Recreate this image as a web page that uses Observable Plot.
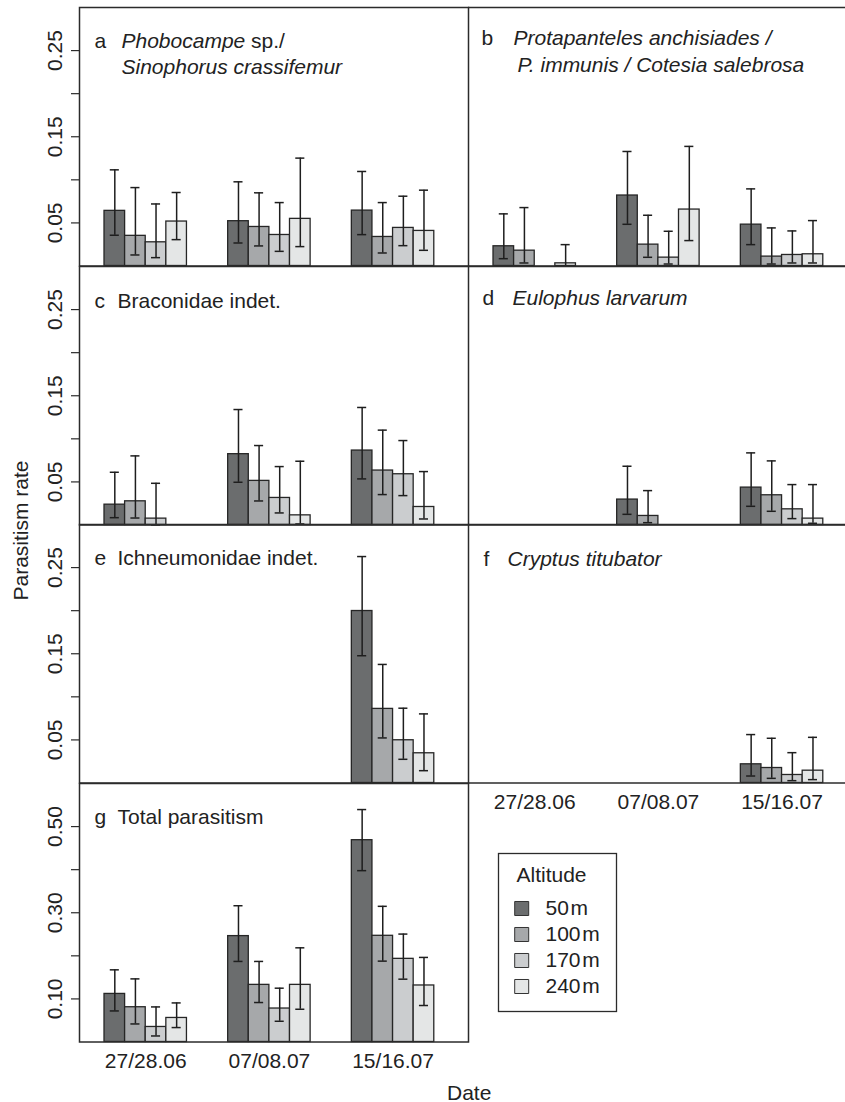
<!DOCTYPE html>
<html><head><meta charset="utf-8">
<script src="https://cdn.jsdelivr.net/npm/d3@7"></script>
<script src="https://cdn.jsdelivr.net/npm/@observablehq/plot@0.6"></script>
<style>
html,body{margin:0;padding:0;background:#fff;overflow:hidden;}
#fig{position:relative;width:845px;height:1102px;overflow:hidden;font-family:"Liberation Sans",Arial,Helvetica,sans-serif;color:#222;}
#fig svg{position:absolute;}
.lab{position:absolute;font-size:21px;line-height:21px;white-space:nowrap;transform-origin:center;}
</style></head><body><div id="fig"></div>
<script>
// ---------- data ----------
const dates = ["27/28.06", "07/08.07", "15/16.07"];
const altitudes = ["50\u200Am", "100\u200Am", "170\u200Am", "240\u200Am"];
const colors = ["#6b6d6e", "#a6a8aa", "#cbcdcf", "#e4e6e6"];

// a  Phobocampe sp. / Sinophorus crassifemur
const aMean = [0.064, 0.035, 0.0275, 0.0516, 0.052, 0.0453, 0.036, 0.0547, 0.0643, 0.0337, 0.0442, 0.0407];
const aLow  = [0.0357, 0.0128, 0.0097, 0.0306, 0.0267, 0.0233, 0.017, 0.0225, 0.0364, 0.0151, 0.0236, 0.0182];
const aHigh = [0.1116, 0.091, 0.072, 0.0853, 0.0977, 0.0849, 0.0736, 0.1252, 0.1097, 0.0736, 0.081, 0.088];
// b  Protapanteles anchisiades / P. immunis / Cotesia salebrosa
const bMean = [0.0229, 0.0178, 0, 0.0031, 0.0818, 0.0248, 0.0097, 0.0655, 0.048, 0.0109, 0.0128, 0.0136];
const bLow  = [0.0085, 0.0035, null, 0, 0.0484, 0.0101, 0.0023, 0.0295, 0.0248, 0.0023, 0.0035, 0.0035];
const bHigh = [0.0605, 0.0678, null, 0.0248, 0.1329, 0.0589, 0.0403, 0.1388, 0.0895, 0.0442, 0.0407, 0.0527];
// c  Braconidae indet.
const cMean = [0.0236, 0.0275, 0.0074, 0, 0.0822, 0.0512, 0.0314, 0.0112, 0.0864, 0.0632, 0.0589, 0.0209];
const cLow  = [0.0085, 0.0081, 0, null, 0.0496, 0.0279, 0.014, 0.0012, 0.0535, 0.0353, 0.0341, 0.007];
const cHigh = [0.0612, 0.0802, 0.0484, null, 0.134, 0.0922, 0.0678, 0.074, 0.1364, 0.1101, 0.098, 0.062];
// d  Eulophus larvarum
const dMean = [0, 0, 0, 0, 0.0295, 0.0105, 0, 0, 0.0434, 0.0345, 0.0182, 0.0074];
const dLow  = [null, null, null, null, 0.0124, 0.0027, null, null, 0.0217, 0.0159, 0.0074, 0.002];
const dHigh = [null, null, null, null, 0.0682, 0.0399, null, null, 0.0837, 0.0744, 0.0469, 0.0469];
// e  Ichneumonidae indet.
const eMean = [0, 0, 0, 0, 0, 0, 0, 0, 0.1996, 0.086, 0.0496, 0.0345];
const eLow  = [null, null, null, null, null, null, null, null, 0.1477, 0.0523, 0.0275, 0.0143];
const eHigh = [null, null, null, null, null, null, null, null, 0.2628, 0.1376, 0.0868, 0.0802];
// f  Cryptus titubator
const fMean = [0, 0, 0, 0, 0, 0, 0, 0, 0.0217, 0.0174, 0.0093, 0.0143];
const fLow  = [null, null, null, null, null, null, null, null, 0.0081, 0.0054, 0.0027, 0.0039];
const fHigh = [null, null, null, null, null, null, null, null, 0.0562, 0.0519, 0.0352, 0.053];
// g  Total parasitism
const gMean = [0.1116, 0.0807, 0.0349, 0.0558, 0.2458, 0.1326, 0.0777, 0.1326, 0.4684, 0.2465, 0.193, 0.1312];
const gLow  = [0.0721, 0.0419, 0.014, 0.0335, 0.187, 0.0916, 0.0481, 0.076, 0.3977, 0.1877, 0.1458, 0.0847];
const gHigh = [0.1675, 0.1465, 0.0814, 0.0907, 0.3163, 0.187, 0.1249, 0.2186, 0.5395, 0.3149, 0.2505, 0.1963];

const smallTicks = [0.05, 0.10, 0.15, 0.20, 0.25];
const smallLabels = [0.05, 0.15, 0.25];
const totalTicks = [0.1, 0.2, 0.3, 0.4, 0.5];
const totalLabels = [0.1, 0.3, 0.5];

// ---------- layout ----------
const fig = document.getElementById("fig");
const FONT = '"Liberation Sans", Arial, Helvetica, sans-serif';
const FS = 21;
const INK = "#222";
const LINE = "#2b2b2b";
const ctx = document.createElement("canvas").getContext("2d");
function textWidth(s, italic) { ctx.font = `${italic ? "italic " : ""}${FS}px ${FONT}`; return ctx.measureText(s).width; }

const tops = [7, 265.5, 524, 782.5];
const H = 258.5;
const unit = 389 / 18.873;
const x0 = -0.213;

function rowsFor(mean, low, high) {
  return dates.flatMap((date, g) => altitudes.map((alt, k) => {
    const i = g * 4 + k;
    return {date, alt, g, k, v: mean[i], lo: low[i], hi: high[i]};
  }));
}

function drawPanel(p) {
  const right = p.col === 1;
  const top = tops[p.row];
  const mt = 1, mb = p.dateAxis ? 46 : 1;
  const width = right ? 378 : 469;
  const ml = right ? 1 : 79, mr = right ? 0 : 1;
  const xmax = x0 + (width - ml - mr) / unit;
  const rows = rowsFor(p.mean, p.low, p.high);
  const err = rows.filter(d => d.hi != null && d.v > 0);
  const cx = d => 6 * d.g + 1 + d.k + 0.5;
  const cap = 0.22;
  const marks = [
    Plot.rect(rows.filter(d => d.v > 0), {x1: d => 6 * d.g + 1 + d.k, x2: d => 6 * d.g + 2 + d.k, y1: 0, y2: "v", fill: "alt", stroke: "#262626", strokeWidth: 1.3}),
    Plot.ruleX(err, {x: cx, y1: "lo", y2: "hi", stroke: "#1e1e1e", strokeWidth: 1.5}),
    Plot.ruleY(err, {y: "hi", x1: d => cx(d) - cap, x2: d => cx(d) + cap, stroke: "#1e1e1e", strokeWidth: 1.5}),
    Plot.ruleY(err, {y: "lo", x1: d => cx(d) - cap, x2: d => cx(d) + cap, stroke: "#1e1e1e", strokeWidth: 1.5})
  ];
  if (!right) {
    marks.push(Plot.frame({stroke: LINE, strokeWidth: 1.5}));
    marks.push(Plot.axisY(p.ticks, {tickSize: 8, tickFormat: () => "", stroke: LINE, strokeWidth: 1.2}));
    marks.push(Plot.text(p.labels, {y: d => d, text: d => d.toFixed(2), frameAnchor: "left", dx: -24, rotate: -90, textAnchor: "middle", lineAnchor: "middle", fontSize: FS, fill: INK}));
  } else {
    marks.push(Plot.ruleY([0, p.ymax], {stroke: LINE, strokeWidth: 1.5}));
  }
  if (p.dateAxis) {
    marks.push(Plot.axisX([3, 9, 15], {tickFormat: d => dates[(d - 3) / 6], tickSize: 0, tickPadding: 11, fontSize: FS, fill: INK, label: null}));
  }
  // panel titles
  marks.push(Plot.text([p.letter], {text: d => d, frameAnchor: "top-left", dx: p.letterDx, dy: p.lines[0].dy, textAnchor: "start", lineAnchor: "bottom", fontSize: FS, fill: INK}));
  for (const line of p.lines) {
    let dx = line.dx;
    for (const seg of line.segs) {
      marks.push(Plot.text([seg.t], {text: d => d, frameAnchor: "top-left", dx, dy: line.dy, textAnchor: "start", lineAnchor: "bottom", fontSize: FS, fontStyle: seg.i ? "italic" : "normal", fill: INK}));
      dx += textWidth(seg.t, seg.i);
    }
  }
  const svg = Plot.plot({
    width, height: H + mt + mb,
    marginLeft: ml, marginRight: mr, marginTop: mt, marginBottom: mb,
    x: {domain: [x0, xmax], axis: null},
    y: {domain: [0, p.ymax], axis: null},
    color: {domain: altitudes, range: colors},
    style: {background: "transparent", overflow: "visible", fontFamily: FONT, fontSize: FS + "px", color: INK},
    marks
  });
  svg.style.left = (right ? 467 : 0) + "px";
  svg.style.top = (top - mt) + "px";
  fig.appendChild(svg);
}

const panels = [
  {col: 0, row: 0, mean: aMean, low: aLow, high: aHigh, ymax: 0.30, ticks: smallTicks, labels: smallLabels, letter: "a", letterDx: 15,
   lines: [{dx: 42, dy: 40, segs: [{t: "Phobocampe", i: true}, {t: " sp./", i: false}]}, {dx: 42, dy: 66, segs: [{t: "Sinophorus crassifemur", i: true}]}]},
  {col: 1, row: 0, mean: bMean, low: bLow, high: bHigh, ymax: 0.30, letter: "b", letterDx: 13,
   lines: [{dx: 45, dy: 37, segs: [{t: "Protapanteles anchisiades /", i: true}]}, {dx: 49, dy: 64, segs: [{t: "P. immunis / Cotesia salebrosa", i: true}]}]},
  {col: 0, row: 1, mean: cMean, low: cLow, high: cHigh, ymax: 0.30, ticks: smallTicks, labels: smallLabels, letter: "c", letterDx: 15,
   lines: [{dx: 38, dy: 41, segs: [{t: "Braconidae indet.", i: false}]}]},
  {col: 1, row: 1, mean: dMean, low: dLow, high: dHigh, ymax: 0.30, letter: "d", letterDx: 14,
   lines: [{dx: 44, dy: 38, segs: [{t: "Eulophus larvarum", i: true}]}]},
  {col: 0, row: 2, mean: eMean, low: eLow, high: eHigh, ymax: 0.30, ticks: smallTicks, labels: smallLabels, letter: "e", letterDx: 15,
   lines: [{dx: 38, dy: 40, segs: [{t: "Ichneumonidae indet.", i: false}]}]},
  {col: 1, row: 2, mean: fMean, low: fLow, high: fHigh, ymax: 0.30, letter: "f", letterDx: 15, dateAxis: true,
   lines: [{dx: 39, dy: 41, segs: [{t: "Cryptus titubator", i: true}]}]},
  {col: 0, row: 3, mean: gMean, low: gLow, high: gHigh, ymax: 0.60, ticks: totalTicks, labels: totalLabels, letter: "g", letterDx: 15, dateAxis: true,
   lines: [{dx: 38, dy: 40, segs: [{t: "Total parasitism", i: false}]}]}
];
panels.forEach(drawPanel);

// legend
const leg = Plot.plot({
  width: 120, height: 160, margin: 1,
  x: {domain: [0, 1], axis: null},
  y: {type: "point", domain: altitudes, range: [55.3, 134], padding: 0, axis: null},
  color: {domain: altitudes, range: colors},
  style: {background: "transparent", overflow: "visible", fontFamily: FONT, fontSize: FS + "px", color: INK},
  marks: [
    Plot.frame({stroke: LINE, strokeWidth: 1.3}),
    Plot.text(["Altitude"], {text: d => d, frameAnchor: "top-left", dx: 18, dy: 28, textAnchor: "start", lineAnchor: "bottom", fontSize: FS, fill: INK}),
    Plot.dot(altitudes, {y: d => d, frameAnchor: "left", dx: 23.2, symbol: "square", r: 7.9, fill: d => d, stroke: "#333", strokeWidth: 1}),
    Plot.text(altitudes, {y: d => d, text: d => d, frameAnchor: "left", dx: 47, textAnchor: "start", lineAnchor: "middle", fontSize: FS, fill: INK})
  ]
});
leg.style.left = "497px";
leg.style.top = "852px";
fig.appendChild(leg);

// shared axis titles
function addLabel(text, cx, cy, rotate) {
  const el = document.createElement("div");
  el.className = "lab";
  el.textContent = text;
  fig.appendChild(el);
  const w = el.offsetWidth, h = el.offsetHeight;
  el.style.left = (cx - w / 2) + "px";
  el.style.top = (cy - h / 2) + "px";
  if (rotate) el.style.transform = `rotate(${rotate}deg)`;
}
addLabel("Parasitism rate", 20, 530, -90);
addLabel("Date", 469, 1092, 0);
</script>
</body></html>
